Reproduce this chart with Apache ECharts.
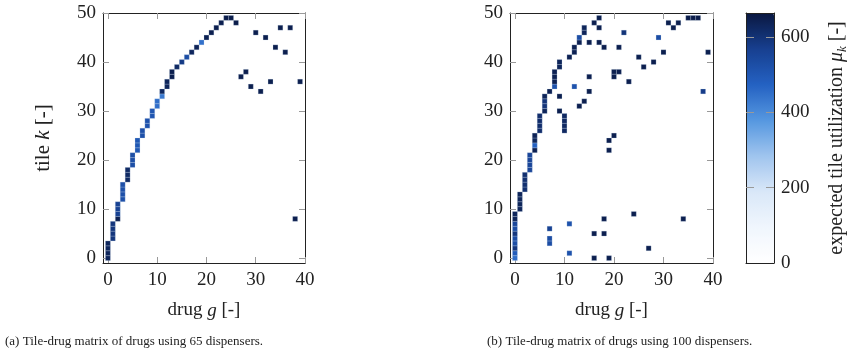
<!DOCTYPE html>
<html>
<head>
<meta charset="utf-8">
<script src="https://cdn.jsdelivr.net/npm/echarts@6/dist/echarts.min.js"></script>
<style>
html,body{margin:0;padding:0;background:#fff;}
#chart{width:851px;height:357px;}
</style>
</head>
<body>
<div id="chart"></div>
<script>
// ---- data: panel (a), 65 dispensers ----
var drugA = [0,0,0,0, 1,1,1,1, 2,2,2,2, 3,3,3,3, 4,4,4, 5,5,5, 6,6,6, 7,7, 8,8, 9,9, 10,10, 11,11, 12,12, 13,13, 14, 15, 16, 17, 18, 19, 20, 21, 22, 23, 24, 25, 26,
  30, 32, 35, 37, 34, 36, 27, 28, 29, 31, 33, 39, 38];
var tileA = [0,1,2,3, 4,5,6,7, 8,9,10,11, 12,13,14,15, 16,17,18, 19,20,21, 22,23,24, 25,26, 27,28, 29,30, 31,32, 33,34, 35,36, 37,38, 39, 40, 41, 42, 43, 44, 45, 46, 47, 48, 49, 49, 48,
  46, 45, 47, 47, 43, 42, 37, 38, 35, 34, 36, 36, 8];
var utilA = [630,630,630,630, 590,590,590,590, 640,560,560,560, 520,520,520,520, 620,620,620, 525,525,525, 500,500,500, 520,520, 515,515, 505,505, 450,450, 430,625, 632,632, 645,645, 620, 580, 530, 628, 636, 445, 640, 645, 645, 645, 650, 650, 650,
  645, 645, 645, 645, 645, 645, 645, 645, 645, 645, 645, 645, 645];

// ---- data: panel (b), 100 dispensers ----
var drugB = [0,0,0,0,0,0,0,0,0,0, 1,1,1,1, 2,2,2,2, 3,3,3,3, 4,4,4,4, 5,5,5,5, 6,6,6,6, 7, 8,8,8,8, 9,9, 11, 12,12, 13,13, 14,14, 16, 17,
  17, 15, 17, 18, 21, 22, 29, 30, 39, 25, 28, 26, 20, 21, 20, 23, 15, 12, 15, 9, 14, 13, 9, 10,10,10,10, 20, 19, 19, 38,
  24, 18, 34, 7, 11, 16, 18, 7, 7, 27, 11, 16, 19, 31, 33, 32, 35, 36, 37];
var tileB = [0,1,2,3,4,5,6,7,8,9, 10,11,12,13, 14,15,16,17, 18,19,20,21, 22,23,24,25, 26,27,28,29, 30,31,32,33, 34, 35,36,37,38, 39,40, 41, 42,43, 44,45, 46,47, 48, 49,
  47, 44, 44, 43, 43, 46, 45, 42, 42, 41, 40, 39, 38, 38, 37, 36, 37, 35, 34, 33, 32, 31, 30, 26,27,28,29, 25, 24, 22, 34,
  9, 8, 8, 6, 7, 5, 5, 3, 4, 2, 1, 0, 0, 48, 48, 47, 49, 49, 49];
var utilB = [450,490,590,530,530,590,530,550,632,632, 632,632,632,632, 605,605,605,605, 550,550,550,550, 640,475,632,636, 612,612,612,612, 632,595,595,632, 640, 515,640,640,640, 632,632, 640, 640,640, 640,530, 632,632, 645, 645,
  645, 645, 645, 645, 645, 595, 530, 645, 645, 645, 645, 645, 645, 645, 645, 645, 645, 515, 645, 645, 645, 645, 645, 622,622,622,622, 645, 645, 645, 575,
  645, 645, 645, 560, 515, 645, 645, 530, 530, 645, 515, 645, 645, 645, 645, 645, 650, 650, 650];

// ---- axes / ticks ----
var drugTicks = [0, 10, 20, 30, 40];
var tileTicks = [0, 10, 20, 30, 40, 50];
var utilTicks = [0, 200, 400, 600];
var drugRange = [-1, 40];
var tileRange = [-1, 50];
var utilRange = [0, 663];
var captionA = '(a) Tile-drug matrix of drugs using 65 dispensers.';
var captionB = '(b) Tile-drug matrix of drugs using 100 dispensers.';

function triples(xs, ys, vs) {
  var out = [];
  for (var i = 0; i < xs.length; i++) out.push([xs[i], ys[i], vs[i]]);
  return out;
}

var FONT = '"Liberation Serif", "DejaVu Serif", serif';
var tickStyle = {color: '#999', width: 1};
var lineStyle = {color: '#222', width: 1};

function xAxes(gridIndex, name) {
  return [{
    type: 'value', gridIndex: gridIndex, position: 'bottom', min: drugRange[0], max: drugRange[1],
    axisLine: {show: true, onZero: false, lineStyle: lineStyle},
    axisTick: {show: true, inside: true, length: 6, lineStyle: tickStyle, customValues: drugTicks},
    axisLabel: {show: true, margin: 8, customValues: drugTicks, fontFamily: FONT, fontSize: 19, color: '#222'},
    splitLine: {show: false},
    name: name, nameLocation: 'middle', nameGap: 38,
    nameTextStyle: {fontFamily: FONT, fontSize: 19, color: '#222',
      rich: {i: {fontFamily: FONT, fontStyle: 'italic', fontSize: 19, color: '#222'}}}
  }, {
    type: 'value', gridIndex: gridIndex, position: 'top', min: drugRange[0], max: drugRange[1],
    axisLine: {show: true, onZero: false, lineStyle: lineStyle},
    axisTick: {show: true, inside: true, length: 6, lineStyle: tickStyle, customValues: drugTicks},
    axisLabel: {show: false}, splitLine: {show: false}
  }];
}
function yAxes(gridIndex, name) {
  return [{
    type: 'value', gridIndex: gridIndex, position: 'left', min: tileRange[0], max: tileRange[1],
    axisLine: {show: true, onZero: false, lineStyle: lineStyle},
    axisTick: {show: true, inside: true, length: 6, lineStyle: tickStyle, customValues: tileTicks},
    axisLabel: {show: true, margin: 7, customValues: tileTicks, fontFamily: FONT, fontSize: 19, color: '#222'},
    splitLine: {show: false},
    name: name, nameLocation: 'middle', nameGap: 49, nameRotate: 90,
    nameTextStyle: {fontFamily: FONT, fontSize: 21, color: '#222',
      rich: {i: {fontFamily: FONT, fontStyle: 'italic', fontSize: 21, color: '#222'}}}
  }, {
    type: 'value', gridIndex: gridIndex, position: 'right', min: tileRange[0], max: tileRange[1],
    axisLine: {show: true, onZero: false, lineStyle: lineStyle},
    axisTick: {show: true, inside: true, length: 6, lineStyle: tickStyle, customValues: tileTicks},
    axisLabel: {show: false}, splitLine: {show: false}
  }];
}

function cellRender(params, api) {
  var g = api.value(0), k = api.value(1);
  var p = api.coord([g - 0.5, k + 0.5]);
  var s = api.size([1, 1]);
  return {
    type: 'rect',
    shape: {x: p[0], y: p[1], width: s[0], height: s[1]},
    style: {fill: api.visual('color'), stroke: 'rgba(200,215,235,0.6)', lineWidth: 0.4}
  };
}

var colors = ['#ffffff', '#f0f6fd', '#d9e7f8', '#9fc4ee', '#5597e0', '#2461c2', '#173f8f', '#0a1840'];

var option = {
  backgroundColor: '#fff',
  animation: false,
  grid: [
    {left: 103, top: 13, width: 202, height: 250},
    {left: 510, top: 13, width: 203, height: 250},
    {left: 746, top: 13, width: 28, height: 250}
  ],
  xAxis: [].concat(
    xAxes(0, 'drug {i|g} [-]'),
    xAxes(1, 'drug {i|g} [-]'),
    [{type: 'value', gridIndex: 2, position: 'bottom', min: 0, max: 1, z: 10,
      axisLine: {show: true, onZero: false, lineStyle: lineStyle}, axisTick: {show: false}, axisLabel: {show: false}, splitLine: {show: false}},
     {type: 'value', gridIndex: 2, position: 'top', min: 0, max: 1, z: 10,
      axisLine: {show: true, onZero: false, lineStyle: lineStyle}, axisTick: {show: false}, axisLabel: {show: false}, splitLine: {show: false}}]
  ),
  yAxis: [].concat(
    yAxes(0, 'tile {i|k} [-]'),
    yAxes(1, ''),
    [{type: 'value', gridIndex: 2, position: 'left', min: utilRange[0], max: utilRange[1], z: 10,
      axisLine: {show: true, onZero: false, lineStyle: lineStyle},
      axisTick: {show: true, inside: true, length: 8, lineStyle: tickStyle, customValues: utilTicks.slice(1)},
      axisLabel: {show: false}, splitLine: {show: false}},
     {type: 'value', gridIndex: 2, position: 'right', min: utilRange[0], max: utilRange[1], z: 10,
      axisLine: {show: true, onZero: false, lineStyle: lineStyle},
      axisTick: {show: true, inside: true, length: 8, lineStyle: tickStyle, customValues: utilTicks.slice(1)},
      axisLabel: {show: true, margin: 7, customValues: utilTicks, fontFamily: FONT, fontSize: 19, color: '#222'},
      splitLine: {show: false},
      name: 'expected tile utilization {i|μ}{s|k} [-]', nameLocation: 'middle', nameGap: 51, nameRotate: 90,
      nameTextStyle: {fontFamily: FONT, fontSize: 20, color: '#222', lineHeight: 24, rich: {
        i: {fontFamily: FONT, fontStyle: 'italic', fontSize: 20, color: '#222', lineHeight: 24},
        s: {fontFamily: FONT, fontStyle: 'italic', fontSize: 13, color: '#222', lineHeight: 13, verticalAlign: 'bottom'}
      }}}]
  ),
  visualMap: {
    type: 'continuous', min: utilRange[0], max: utilRange[1], dimension: 2, seriesIndex: [0, 1],
    calculable: false, hoverLink: false, realtime: false,
    left: 746, top: 13, itemWidth: 28, itemHeight: 250, padding: 0,
    text: null, showLabel: false,
    inRange: {color: colors}
  },
  title: [
    {text: captionA, left: 5, top: 335, padding: 0, textStyle: {fontFamily: FONT, fontSize: 13, fontWeight: 'normal', color: '#222'}},
    {text: captionB, left: 487, top: 335, padding: 0, textStyle: {fontFamily: FONT, fontSize: 13, fontWeight: 'normal', color: '#222'}}
  ],
  series: [
    {type: 'custom', xAxisIndex: 0, yAxisIndex: 0, renderItem: cellRender, clip: true,
     encode: {x: 0, y: 1}, data: triples(drugA, tileA, utilA)},
    {type: 'custom', xAxisIndex: 2, yAxisIndex: 2, renderItem: cellRender, clip: true,
     encode: {x: 0, y: 1}, data: triples(drugB, tileB, utilB)}
  ]
};

var chart = echarts.init(document.getElementById('chart'), null, {renderer: 'canvas'});
chart.setOption(option);
</script>
</body>
</html>
